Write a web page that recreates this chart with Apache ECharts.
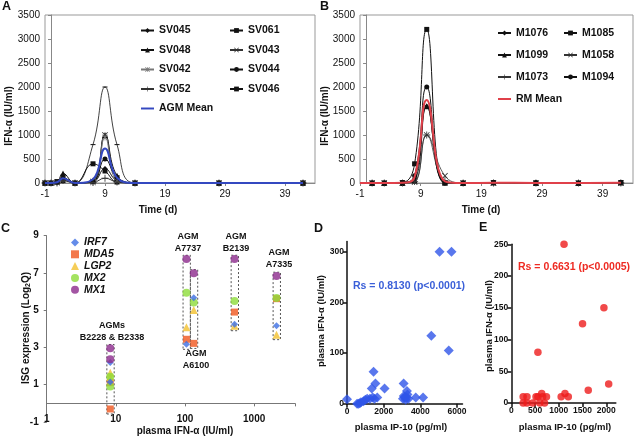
<!DOCTYPE html>
<html><head><meta charset="utf-8">
<script src="https://cdn.jsdelivr.net/npm/echarts@6/dist/echarts.min.js"></script>
<style>html,body{margin:0;padding:0;background:#fff}#c{width:637px;height:442px}</style>
</head><body><div id="c"></div>
<script>
// ---------- Panel A (AGM) ----------
const daysA = [-1, 0, 1, 2, 4, 7, 9, 11, 14, 28, 42];
const SV045 = [0, 0, 30, 100, 0, 20, 300, 50, 0, 0, 0];
const SV061 = [0, 0, 30, 50, 0, 400, 250, 20, 0, 0, 0];
const SV048 = [0, 0, 20, 200, 0, 50, 1000, 150, 0, 0, 0];
const SV043 = [0, 0, 10, 100, 0, 30, 1000, 100, 0, 0, 0];
const SV042 = [0, 0, 10, 80, 0, 10, 950, 50, 0, 0, 0];
const SV044 = [0, 0, 20, 100, 0, 30, 500, 120, 0, 0, 0];
const SV052 = [0, 0, 0, 50, 0, 10, 100, 20, 0, 0, 0];
const SV046 = [0, 0, 0, 100, 0, 800, 2000, 800, 0, 0, 0];
const AGMmean = [0, 0, 15, 100, 0, 80, 720, 110, 0, 0, 0];
// ---------- Panel B (RM) ----------
const daysB = [1, 3, 6, 8, 10, 13, 16, 21, 28, 35, 42];
const M1076 = [0, 0, 10, 100, 1600, 0, 0, 0, 0, 0, 0];
const M1085 = [0, 0, 10, 400, 3200, 0, 0, 10, 0, 0, 10];
const M1099 = [0, 0, 0, 50, 1600, 10, 0, 10, 0, 0, 10];
const M1058 = [0, 0, 0, 20, 1000, 150, 0, 0, 0, 0, 0];
const M1073 = [0, 0, 0, 30, 1000, 50, 0, 0, 0, 0, 0];
const M1094 = [0, 0, 10, 150, 2000, 0, 0, 10, 10, 0, 10];
const daysBmean = [-1, 1, 3, 6, 8, 10, 13, 16, 21, 28, 35, 42];
const RMmean = [0, 0, 0, 5, 125, 1730, 35, 0, 5, 2, 0, 5];
// ---------- Panel C (ISG vs IFN) ----------
const groupNames = ['B2228', 'B2338', 'A7737', 'A6100', 'B2139', 'A7335'];
const plasmaIFN = [8.3, 8.3, 105, 134, 521, 2108];
const IRF7 = [2.2, 1.15, 3.17, 5.67, 4.25, 4.17];
const MDA5 = [1.11, -0.3, 3.44, 3.22, 4.9, 5.62];
const LGP2 = [1.65, 1.4, 4.08, 5.01, 4.17, 3.69];
const MX2 = [1.43, 0.9, 5.94, 5.42, 5.5, 5.66];
const MX1 = [2.96, 2.37, 7.75, 6.98, 7.75, 6.84];
const boxGroups = [[0, 1], [2], [3], [4], [5]];
// ---------- Panel D ----------
const dIP10 = [0,550,620,700,760,900,1000,1100,1250,1400,1500,1650,1350,1550,1450,2050,3050,3100,3150,3200,3250,3350,3090,3270,3300,3750,4150,4600,5550,5050,5700];
const dIFN  = [9,0,0,1,3,5,8,10,10,12,10,12,30,40,63,30,10,15,12,8,12,10,40,25,18,12,12,134,105,300,300];
// ---------- Panel E ----------
const eIP10 = [250,250,330,330,450,520,560,600,640,660,700,740,1050,1130,1200,560,1110,1500,1950,1620,2050];
const eIFN  = [10,0,10,0,0,10,10,0,15,10,0,10,10,15,10,80,250,125,150,20,30];

const FF = 'Liberation Sans, Arial, sans-serif';
const SYM_X = 'path://M1,0L5,4L9,0L10,1L6,5L10,9L9,10L5,6L1,10L0,9L4,5L0,1Z';
const SYM_PLUS = 'path://M4.4,0H5.6V4.4H10V5.6H5.6V10H4.4V5.6H0V4.4H4.4Z';
const SYM_AST = 'path://M1,0L5,4L9,0L10,1L6,5L10,9L9,10L5,6L1,10L0,9L4,5L0,1Z M4.4,0H5.6V10H4.4Z';
const SYM_DASH = 'path://M0,0H10V2H0Z';
const LINE_ICON = 'path://M0,0H20V3H0Z';
const plain = v => String(Math.round(v * 1000) / 1000);

function ln(name, days, vals, ai, sym, size, color, width) {
  return {
    type: 'line', name, xAxisIndex: ai, yAxisIndex: ai,
    data: days.map((d, i) => [d, vals[i]]),
    smooth: 0.45, connectNulls: true, symbol: sym, symbolSize: size, showSymbol: sym !== 'none',
    lineStyle: { color: color, width: width },
    itemStyle: { color: color }, z: 3
  };
}
const series = [
  ln('SV045', daysA, SV045, 0, 'diamond', 5, '#111', 1),
  ln('SV061', daysA, SV061, 0, 'rect', 5, '#111', 1),
  ln('SV048', daysA, SV048, 0, 'triangle', 6, '#111', 1),
  ln('SV043', daysA, SV043, 0, SYM_X, 6, '#333', 1),
  ln('SV042', daysA, SV042, 0, SYM_AST, 6, '#777', 1),
  ln('SV044', daysA, SV044, 0, 'circle', 5, '#111', 1),
  ln('SV052', daysA, SV052, 0, SYM_PLUS, 7, '#333', 1),
  ln('SV046', daysA, SV046, 0, SYM_DASH, [5, 1], '#111', 0.8),
  Object.assign(ln('AGM Mean', daysA, AGMmean, 0, 'none', 0, '#3448c0', 2), { z: 4 }),
  ln('M1076', daysB, M1076, 1, 'diamond', 5, '#111', 1),
  ln('M1085', daysB, M1085, 1, 'rect', 5, '#111', 1),
  ln('M1099', daysB, M1099, 1, 'triangle', 6, '#111', 1),
  ln('M1058', daysB, M1058, 1, SYM_X, 6, '#333', 0.8),
  ln('M1073', daysB, M1073, 1, SYM_PLUS, 7, '#333', 0.8),
  ln('M1094', daysB, M1094, 1, 'circle', 5, '#111', 1),
  Object.assign(ln('RM Mean', daysBmean, RMmean, 1, 'none', 0, '#e0404a', 2), { z: 4 })
];

function sc(name, vals, sym, size, color, z) {
  return {
    type: 'scatter', name, xAxisIndex: 2, yAxisIndex: 2,
    data: plasmaIFN.map((x, i) => [x, vals[i]]),
    symbol: sym, symbolSize: size, itemStyle: { color: color }, z: z
  };
}
const boxes = boxGroups.map(g => {
  const all = [IRF7, MDA5, LGP2, MX2, MX1].flatMap(a => g.map(i => a[i]));
  const x = plasmaIFN[g[0]];
  return [{ coord: [x / 1.12, Math.min(...all) - 0.27] }, { coord: [x * 1.14, Math.max(...all) + 0.2] }];
});
const cMDA5 = sc('MDA5', MDA5, 'rect', 7, '#f0561e', 3);
cMDA5.markArea = {
  silent: true,
  itemStyle: { color: 'rgba(0,0,0,0)', borderColor: '#555', borderWidth: 1, borderType: [2, 2] },
  data: boxes
};
series.push(
  cMDA5,
  sc('LGP2', LGP2, 'triangle', 8, '#f2c12e', 4),
  sc('MX2', MX2, 'circle', 8, '#8ddc3a', 5),
  sc('IRF7', IRF7, 'diamond', 7, '#3d6fe3', 6),
  sc('MX1', MX1, 'circle', 8, '#8c2a8c', 6)
);
series.push({
  type: 'scatter', name: 'D', xAxisIndex: 4, yAxisIndex: 3,
  data: dIP10.map((x, i) => [x, dIFN[i]]), symbol: 'diamond', symbolSize: 10,
  itemStyle: { color: '#2f55e8' }
});
series.push({
  type: 'scatter', name: 'E', xAxisIndex: 5, yAxisIndex: 4,
  data: eIP10.map((x, i) => [x, eIFN[i]]), symbol: 'circle', symbolSize: 7.5,
  itemStyle: { color: '#ee1c1c' }
});

const lblXL = { fontFamily: FF, fontSize: 10, color: '#111', formatter: plain };
function xlAxis(extra) {
  return Object.assign({
    type: 'value', splitLine: { show: false },
    axisLine: { lineStyle: { color: '#888', width: 1 } },
    axisTick: { lineStyle: { color: '#888' }, length: 3 },
    axisLabel: Object.assign({ margin: 6, showMaxLabel: false }, lblXL)
  }, extra);
}
const gpLbl = { fontFamily: FF, fontSize: 8.5, fontWeight: 'bold', color: '#111', showMaxLabel: false, margin: 3, formatter: plain };
function gpAxis(extra) {
  return Object.assign({
    type: 'value', splitLine: { show: false },
    axisLine: { lineStyle: { color: '#111', width: 1.5 } },
    axisTick: { lineStyle: { color: '#111', width: 1.5 }, length: 4 },
    axisLabel: gpLbl
  }, extra);
}

const legTxt = { fontFamily: FF, fontSize: 10.5, fontWeight: 'bold', color: '#111' };
function leg(data, left, top, gap) {
  return { data, left, top, orient: 'vertical', itemGap: gap, itemWidth: 13, itemHeight: 6,
    textStyle: legTxt, padding: 0, selectedMode: false };
}

function T(text, x, y, opts) {
  const o = opts || {};
  return {
    type: 'text', x, y, rotation: o.rot || 0, silent: true,
    style: {
      text, fill: o.color || '#111',
      font: (o.italic ? 'italic ' : '') + 'bold ' + (o.size || 10) + 'px ' + FF,
      textAlign: o.align || 'center', align: o.align || 'center',
      textVerticalAlign: o.va || 'middle', verticalAlign: o.va || 'middle',
      lineHeight: o.lh || 12, rich: o.rich
    }
  };
}
const R = Math.PI / 2;
const graphic = [
  T('A', 2, 1, { size: 12.5, align: 'left', va: 'top' }),
  T('B', 320, 1, { size: 12.5, align: 'left', va: 'top' }),
  T('C', 1, 223, { size: 12.5, align: 'left', va: 'top' }),
  T('D', 314, 223, { size: 12.5, align: 'left', va: 'top' }),
  T('E', 479, 222, { size: 12.5, align: 'left', va: 'top' }),
  T('IFN-\u03b1 (IU/ml)', 9, 116, { rot: R, size: 10 }),
  T('Time (d)', 158, 210, { size: 10 }),
  T('IFN-\u03b1 (IU/ml)', 325, 116, { rot: R, size: 10 }),
  T('Time (d)', 481, 210, { size: 10 }),
  T('{a|ISG expression (Log}{s|2}{a|Q)}', 26, 328, { rot: R, size: 10,
    rich: { a: { font: 'bold 10px ' + FF, fill: '#111' }, s: { font: 'bold 7px ' + FF, fill: '#111', verticalAlign: 'bottom', padding: [5, 0, 0, 0] } } }),
  T('plasma IFN-\u03b1 (IU/ml)', 185, 431.5, { size: 10 }),
  T('AGMs\nB2228 & B2338', 112, 332, { size: 9 }),
  T('AGM\nA7737', 188, 242.5, { size: 9 }),
  T('AGM\nB2139', 236, 242.5, { size: 9 }),
  T('AGM\nA7335', 279, 259, { size: 9 }),
  T('AGM\nA6100', 196, 360, { size: 9 }),
  T('plasma IFN-\u03b1 (IU/ml)', 321, 321, { rot: R, size: 9.5 }),
  T('plasma IP-10 (pg/ml)', 401, 427.5, { size: 9.5 }),
  T('Rs = 0.8130 (p<0.0001)', 353, 286, { size: 10.5, align: 'left', color: '#3a5fd8' }),
  T('plasma IFN-\u03b1 (IU/ml)', 489, 326, { rot: R, size: 9.5 }),
  T('plasma IP-10 (pg/ml)', 565, 427.5, { size: 9.5 }),
  T('Rs = 0.6631 (p<0.0005)', 518, 267, { size: 10.5, align: 'left', color: '#ee2a22' })
];

const option = {
  animation: false,
  backgroundColor: '#fff',
  grid: [
    { left: 45, top: 15, width: 270, height: 168, show: true, borderColor: '#999', borderWidth: 1 },
    { left: 360, top: 15, width: 273, height: 168, show: true, borderColor: '#999', borderWidth: 1 },
    { left: 46.7, top: 235.7, width: 248.3, height: 186.3 },
    { left: 347, top: 241.5, width: 115.5, height: 162.2 },
    { left: 511.3, top: 244.3, width: 104.5, height: 158.7 }
  ],
  xAxis: [
    xlAxis({ gridIndex: 0, min: -1, max: 44, interval: 10 }),
    xlAxis({ gridIndex: 1, min: -1, max: 44, interval: 10 }),
    { type: 'log', logBase: 10, gridIndex: 2, min: 1, max: 3900, position: 'bottom',
      axisLine: { show: false, onZero: false }, axisTick: { show: false }, splitLine: { show: false },
      axisLabel: { fontFamily: FF, fontSize: 10, fontWeight: 'bold', color: '#111', margin: -8, showMaxLabel: false, formatter: plain } },
    { type: 'log', logBase: 10, gridIndex: 2, min: 1, max: 3900, position: 'bottom',
      axisLine: { show: true, onZero: true, lineStyle: { color: '#777' } },
      axisTick: { show: true, length: 3, lineStyle: { color: '#777' } },
      axisLabel: { show: false }, splitLine: { show: false } },
    gpAxis({ gridIndex: 3, min: 0, max: 6300, interval: 2000 }),
    gpAxis({ gridIndex: 4, min: 0, max: 2200, interval: 500 })
  ],
  yAxis: [
    xlAxis({ gridIndex: 0, min: 0, max: 3500, interval: 500, axisLabel: Object.assign({ margin: 5 }, lblXL) }),
    xlAxis({ gridIndex: 1, min: 0, max: 3500, interval: 500, axisLabel: Object.assign({ margin: 5 }, lblXL) }),
    { type: 'value', gridIndex: 2, min: -1, max: 9, interval: 2, splitLine: { show: false },
      axisLine: { show: true, lineStyle: { color: '#777' } },
      axisTick: { show: true, length: 3, lineStyle: { color: '#777' } },
      axisLabel: { fontFamily: FF, fontSize: 10, fontWeight: 'bold', color: '#111', margin: 8, formatter: plain } },
    gpAxis({ gridIndex: 3, min: 0, max: 320, interval: 100 }),
    gpAxis({ gridIndex: 4, min: 0, max: 250, interval: 50, axisLabel: Object.assign({}, gpLbl, { showMaxLabel: true }) })
  ],
  legend: [
    leg(['SV045', 'SV048', 'SV042', 'SV052', { name: 'AGM Mean', icon: LINE_ICON }], 140, 25, 8.5),
    leg(['SV061', 'SV043', 'SV044', 'SV046'], 229, 25, 8.5),
    leg(['M1076', 'M1099', 'M1073', { name: 'RM Mean', icon: LINE_ICON }], 497, 27.5, 11),
    leg(['M1085', 'M1058', 'M1094'], 563, 27.5, 11),
    Object.assign(leg(['IRF7', 'MDA5', 'LGP2', 'MX2', 'MX1'], 71, 237, 0.8),
      { itemWidth: 8, itemHeight: 8, textStyle: Object.assign({}, legTxt, { fontStyle: 'italic' }) })
  ],
  graphic: graphic,
  series: series
};
const chart = echarts.init(document.getElementById('c'), null, { renderer: 'canvas' });
chart.setOption(option);
</script></body></html>
